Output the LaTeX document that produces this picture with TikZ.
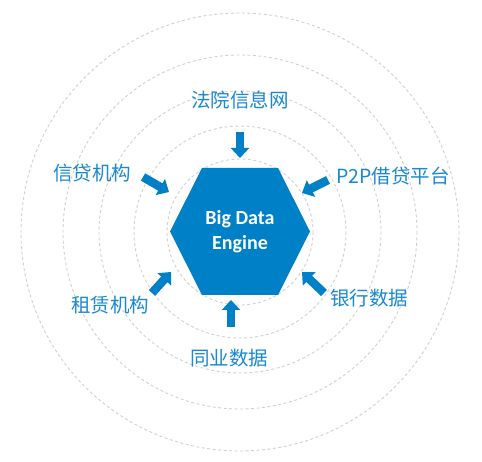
\documentclass[tikz,border=0pt]{standalone}
\usepackage{fontspec}
\setmainfont{Noto Sans CJK SC}
\newfontfamily\engfont{Carlito}
\usetikzlibrary{arrows.meta}
\definecolor{hexblue}{HTML}{0080C6}
\definecolor{txtblue}{HTML}{1A88CF}
\definecolor{ringgray}{HTML}{D0D0D0}
\tikzset{
  ring/.style={draw=ringgray, line width=0.9pt, dash pattern=on 3pt off 2.5pt},
  lbl/.style={text=txtblue, font=\fontsize{19.5}{22}\selectfont, inner sep=0pt},
  feed/.style={draw=hexblue, line width=8.5pt, -{Triangle[width=18pt,length=10pt]}},
}
\begin{document}
\begin{tikzpicture}[x=1pt,y=-1pt]
\useasboundingbox (0,0) rectangle (482,462);
\coordinate (c) at (240,232);
\foreach \r in {219,177,141,106,73} {\draw[ring] (c) circle[radius=\r];}
% hexagon
\fill[hexblue] (202,168) -- (278,168) -- (310,231.5) -- (278,295) -- (202,295) -- (170,231.5) -- cycle;
\node[text=white, font=\engfont\bfseries\fontsize{20}{25}\selectfont, align=center] (eng) at (240,232) {Big Data\\Engine};
% labels
\node[lbl] (fy) at (240,100) {法院信息网};
\node[lbl] (xd) at (92,173) {信贷机构};
\node[lbl] (p2p) at (393,176) {P2P借贷平台};
\node[lbl] (zl) at (110,305) {租赁机构};
\node[lbl] (yh) at (369,298) {银行数据};
\node[lbl] (ty) at (229,358) {同业数据};
% arrow ends
\coordinate (a1s) at (240,132); \coordinate (a1e) at (240,158);
\coordinate (a2s) at (143,177); \coordinate (a2e) at (169,192);
\coordinate (a3s) at (328,180); \coordinate (a3e) at (302,193);
\coordinate (a4s) at (152,293); \coordinate (a4e) at (171,272);
\coordinate (a5s) at (324,293); \coordinate (a5e) at (302,272);
\coordinate (a6s) at (231,327); \coordinate (a6e) at (231,300);
\foreach \i in {1,...,6} {\draw[feed] (a\i s) -- (a\i e);}
\end{tikzpicture}
\end{document}
